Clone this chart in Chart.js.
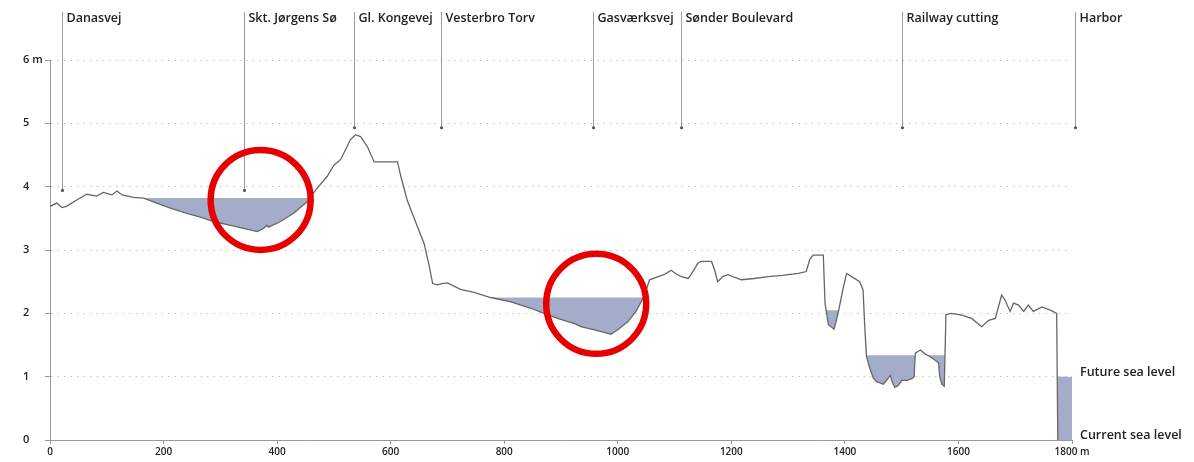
<!DOCTYPE html>
<html>
<head>
<meta charset="utf-8">
<script src="https://cdn.jsdelivr.net/npm/chart.js@4.4.1/dist/chart.umd.min.js"></script>
<style>
  html, body { margin: 0; padding: 0; background: #fff; }
  #wrap { width: 1194px; height: 462px; }
</style>
</head>
<body>
<div id="wrap"><canvas id="profileChart" width="1194" height="462"></canvas></div>
<script>
// terrain profile: distance along route (m) and height (m)
const profileDist = [
  0, 12, 21, 29, 47, 65, 82, 94, 109, 118, 127, 147, 165, 188, 212, 241, 265, 288, 318, 341,
  365, 376, 382, 385, 406, 429, 453, 468, 488, 500, 512, 529, 538, 547, 559, 571, 576, 612, 618, 629,
  647, 659, 668, 674, 682, 690, 700, 723, 747, 776, 812, 847, 870, 894, 912, 923, 935, 959, 976, 988,
  1000, 1018, 1032, 1041, 1047, 1056, 1071, 1083, 1094, 1103, 1112, 1124, 1129, 1141, 1147, 1165, 1170, 1176, 1185, 1194,
  1205, 1218, 1240, 1265, 1290, 1318, 1332, 1338, 1344, 1362, 1365, 1371, 1381, 1388, 1397, 1403, 1412, 1426, 1432, 1435,
  1438, 1444, 1450, 1456, 1468, 1474, 1480, 1484, 1488, 1494, 1500, 1509, 1518, 1522, 1524, 1533, 1541, 1551, 1565, 1567,
  1571, 1575, 1578, 1588, 1606, 1623, 1641, 1653, 1665, 1676, 1682, 1691, 1697, 1706, 1715, 1723, 1732, 1747, 1762, 1773,
  1775
];
const profileHeight = [
  3.69, 3.74, 3.67, 3.69, 3.79, 3.88, 3.85, 3.91, 3.87, 3.93, 3.87, 3.83, 3.82, 3.74, 3.66, 3.58, 3.52, 3.45, 3.39, 3.34,
  3.29, 3.34, 3.39, 3.36, 3.45, 3.58, 3.76, 3.95, 4.16, 4.34, 4.43, 4.74, 4.82, 4.79, 4.63, 4.39, 4.39, 4.39, 4.16, 3.79,
  3.37, 3.10, 2.74, 2.47, 2.45, 2.47, 2.48, 2.38, 2.33, 2.25, 2.18, 2.08, 2.00, 1.92, 1.87, 1.84, 1.79, 1.74, 1.70, 1.67,
  1.74, 1.87, 2.03, 2.18, 2.29, 2.53, 2.58, 2.62, 2.68, 2.62, 2.58, 2.55, 2.61, 2.79, 2.82, 2.82, 2.70, 2.50, 2.58, 2.61,
  2.57, 2.53, 2.55, 2.58, 2.60, 2.63, 2.66, 2.85, 2.92, 2.92, 2.16, 1.82, 1.75, 2.00, 2.40, 2.63, 2.58, 2.50, 2.37, 1.79,
  1.32, 1.13, 0.98, 0.92, 0.88, 0.95, 1.02, 0.90, 0.83, 0.86, 0.94, 0.94, 0.97, 1.00, 1.37, 1.42, 1.36, 1.31, 1.22, 1.00,
  0.88, 0.85, 1.98, 2.00, 1.97, 1.92, 1.79, 1.89, 1.92, 2.29, 2.21, 2.03, 2.16, 2.13, 2.03, 2.13, 2.03, 2.10, 2.05, 2.00,
  0
];

// flooded hollows: water level and the stretch it covers
const floodLevel = [3.82, 2.25, 2.05, 1.34];
const floodFrom = [160, 770, 1360, 1436];
const floodTo = [460, 1052, 1395, 1577];

// harbour basin, future sea level
const seaLevel = 1;
const seaFrom = 1775;
const seaTo = 1800;

// places along the route
const placeNames = ["Danasvej", "Skt. Jørgens Sø", "Gl. Kongevej", "Vesterbro Torv", "Gasværksvej", "Sønder Boulevard", "Railway cutting", "Harbor"];
const placeDist = [21, 342, 536, 688, 956, 1112, 1500, 1805];
const placeMark = [3.94, 3.94, 4.93, 4.93, 4.93, 4.93, 4.93, 4.93];

// red rings marking the two lakes
const ringDist = [371, 962];
const ringHeight = [3.79, 2.15];

const xTickLabels = ["0", "200", "400", "600", "800", "1000", "1200", "1400", "1600", "1800 m"];
const yTickLabels = ["0", "1", "2", "3", "4", "5", "6 m"];
const seaLabels = ["Future sea level", "Current sea level"];

const waterColor = "#a3adc9";
const textColor = "#222";
const labelFont = '600 12.5px "Open Sans"';

const datasets = [{
  data: profileDist.map((d, i) => ({ x: d, y: profileHeight[i] })),
  borderColor: "#666",
  borderWidth: 1.3,
  pointRadius: 0,
  tension: 0,
  fill: false
}];

floodLevel.forEach((lvl, i) => {
  datasets.push({
    data: [{ x: floodFrom[i], y: lvl }, { x: floodTo[i], y: lvl }],
    borderWidth: 0,
    pointRadius: 0,
    fill: { target: 0, above: waterColor, below: "rgba(0,0,0,0)" }
  });
});

datasets.push({
  data: [{ x: seaFrom, y: seaLevel }, { x: seaTo, y: seaLevel }],
  borderWidth: 0,
  pointRadius: 0,
  fill: { target: "origin", above: waterColor, below: waterColor }
});

// leader lines, place names, sea level notes and the red rings
const leaders = {
  id: "leaders",
  afterDraw(chart) {
    const { ctx, scales: { x, y } } = chart;
    ctx.save();
    ctx.font = labelFont;
    ctx.textBaseline = "middle";
    ctx.textAlign = "left";
    placeNames.forEach((name, i) => {
      const px = Math.round(x.getPixelForValue(placeDist[i])) + 0.5;
      const py = y.getPixelForValue(placeMark[i]);
      ctx.strokeStyle = "#9a9a9a";
      ctx.lineWidth = 1;
      ctx.beginPath();
      ctx.moveTo(px, 12);
      ctx.lineTo(px, py);
      ctx.stroke();
      ctx.fillStyle = "#555";
      ctx.beginPath();
      ctx.arc(px, py, 1.6, 0, Math.PI * 2);
      ctx.fill();
      ctx.fillStyle = textColor;
      ctx.fillText(name, px + 4, 18);
    });
    const sx = x.getPixelForValue(seaTo) + 8;
    ctx.fillText(seaLabels[0], sx, y.getPixelForValue(seaLevel) - 4);
    ctx.fillText(seaLabels[1], sx, y.getPixelForValue(0) - 5);

    ctx.strokeStyle = "#e60000";
    ctx.lineWidth = 6.5;
    ringDist.forEach((d, i) => {
      ctx.beginPath();
      ctx.arc(x.getPixelForValue(d), y.getPixelForValue(ringHeight[i]), 50, 0, Math.PI * 2);
      ctx.stroke();
    });
    ctx.restore();
  }
};

new Chart(document.getElementById("profileChart"), {
  type: "line",
  data: { datasets },
  plugins: [leaders],
  options: {
    responsive: false,
    devicePixelRatio: 1,
    animation: false,
    layout: { padding: { top: 60, right: 122, left: 23, bottom: 0 } },
    plugins: {
      legend: { display: false },
      tooltip: { enabled: false }
    },
    scales: {
      x: {
        type: "linear",
        min: 0,
        max: 1800,
        afterFit: (s) => { s.height = 22; },
        ticks: {
          stepSize: 200,
          autoSkip: false,
          maxRotation: 0,
          padding: 2,
          color: textColor,
          font: { family: "Open Sans", size: 10, weight: "600" },
          callback: (v, i) => xTickLabels[i]
        },
        grid: { drawOnChartArea: false, tickLength: 4, tickColor: "#999" },
        border: { color: "#999" }
      },
      y: {
        min: 0,
        max: 6,
        afterFit: (s) => { s.width = 27; },
        ticks: {
          stepSize: 1,
          crossAlign: "far",
          color: textColor,
          font: { family: "Open Sans", size: 11, weight: "600" },
          callback: (v, i) => yTickLabels[i]
        },
        grid: {
          color: (c) => (c.tick && c.tick.value === 0 ? "rgba(0,0,0,0)" : "#c2c2c2"),
          tickColor: "#999",
          tickLength: 5,
          tickBorderDash: []
        },
        border: { color: "#999", dash: [1.5, 5] }
      }
    }
  }
});
</script>
</body>
</html>
